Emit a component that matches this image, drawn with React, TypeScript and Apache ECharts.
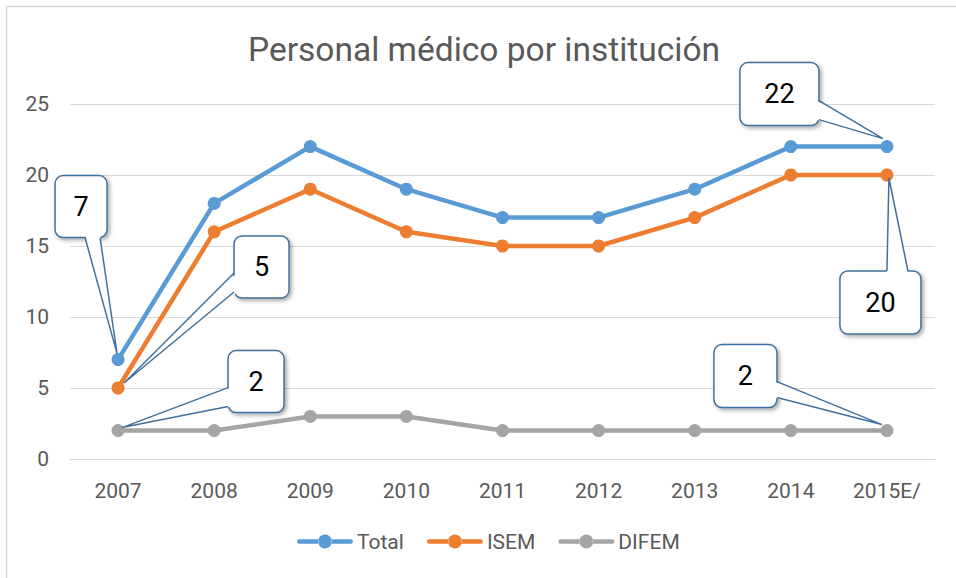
import { useEffect, useRef } from "react";
import * as echarts from "echarts";

const years = ["2007", "2008", "2009", "2010", "2011", "2012", "2013", "2014", "2015E/"];
const totalValues = [7, 18, 22, 19, 17, 17, 19, 22, 22];
const isemValues = [5, 16, 19, 16, 15, 15, 17, 20, 20];
const difemValues = [2, 2, 3, 3, 2, 2, 2, 2, 2];
const seriesNames = ["Total", "ISEM", "DIFEM"];
const seriesColors = ["#5B9BD5", "#ED7D31", "#A5A5A5"];
const seriesValues = [totalValues, isemValues, difemValues];

const titleText = "Personal médico por institución";
const FONT = "'Liberation Sans Narrow', Roboto, 'Noto Sans', sans-serif";

// legend icon: thick line with a circle marker in the middle
const LEGEND_ICON =
  "path://M2.25,4.75 L21.5,4.75 L21.5,9.25 L2.25,9.25 A2.25,2.25 0 0 1 2.25,4.75 Z " +
  "M34.5,4.75 L53.75,4.75 A2.25,2.25 0 0 1 53.75,9.25 L34.5,9.25 Z " +
  "M21,7 A7,7 0 1 0 35,7 A7,7 0 1 0 21,7 Z";

// Callout annotations: which point they point to, and box geometry relative to that point
type Callout = {
  series: number;
  index: number;
  box: [number, number, number, number];
  base: [[number, number], [number, number]];
  edge: "top" | "bottom" | "left" | "right";
  tip: [number, number];
};
const callouts: Callout[] = [
  { series: 0, index: 0, box: [-63, -184, 52, 62], base: [[-33, -122], [-18, -122]], edge: "bottom", tip: [-1, -6] },
  { series: 1, index: 0, box: [116, -152, 55, 62], base: [[116, -115], [116, -96]], edge: "left", tip: [6, -5] },
  { series: 2, index: 0, box: [110, -80, 56, 62], base: [[110, -43], [110, -24]], edge: "left", tip: [4, -3] },
  { series: 0, index: 8, box: [-147, -84, 79, 63], base: [[-68, -46], [-68, -27]], edge: "right", tip: [-4, -8] },
  { series: 1, index: 8, box: [-47, 96, 81, 63], base: [[0, 96], [21, 96]], edge: "top", tip: [2, 3] },
  { series: 2, index: 8, box: [-173, -86, 63, 63], base: [[-110, -49], [-110, -33]], edge: "right", tip: [-5, -6] },
];

export default function App() {
  const ref = useRef<HTMLDivElement>(null);
  useEffect(() => {
    const chart = echarts.init(ref.current!, null, { renderer: "svg" });
    chart.setOption({
      animation: false,
      backgroundColor: "#ffffff",
      title: {
        text: titleText,
        left: 243,
        top: 27,
        textStyle: { fontFamily: FONT, fontSize: 33.5, fontWeight: "normal", color: "#595959" },
      },
      legend: {
        left: 297,
        top: 531,
        padding: 0,
        itemWidth: 56,
        itemHeight: 14,
        itemGap: 23,
        icon: LEGEND_ICON,
        textStyle: { fontFamily: FONT, fontSize: 21, color: "#595959", padding: [0, 0, 0, -1] },
        data: seriesNames,
      },
      grid: { left: 70, right: 21, top: 104, bottom: 119, containLabel: false },
      xAxis: {
        type: "category",
        data: years,
        boundaryGap: true,
        axisLine: { show: true, lineStyle: { color: "#D9D9D9", width: 1 } },
        axisTick: { show: false },
        axisLabel: { fontFamily: FONT, fontSize: 21, color: "#595959", margin: 21 },
      },
      yAxis: {
        type: "value",
        min: 0,
        max: 25,
        interval: 5,
        axisLine: { show: false },
        axisTick: { show: false },
        splitLine: { lineStyle: { color: "#D9D9D9", width: 1 } },
        axisLabel: { fontFamily: FONT, fontSize: 21, color: "#595959", margin: 21 },
      },
      series: seriesNames.map((name, i) => ({
        name,
        type: "line",
        data: seriesValues[i],
        symbol: "circle",
        symbolSize: 13,
        lineStyle: { width: 4.5, color: seriesColors[i] },
        itemStyle: { color: seriesColors[i] },
        z: 5 - i,
      })),
    });

    const graphics: any[] = [
      {
        type: "rect",
        silent: true,
        z: 0,
        shape: { x: 6.5, y: 6.5, width: 960, height: 590 },
        style: { fill: "none", stroke: "#D9D9D9", lineWidth: 1.5 },
      },
    ];
    const stroke = "#41719C";
    callouts.forEach((c) => {
      const val = seriesValues[c.series][c.index];
      const [px, py] = chart.convertToPixel({ gridIndex: 0 }, [c.index, val]) as number[];
      const [bx, by, bw, bh] = c.box;
      const b1 = [px + c.base[0][0], py + c.base[0][1]];
      const b2 = [px + c.base[1][0], py + c.base[1][1]];
      const tip = [px + c.tip[0], py + c.tip[1]];
      const inset = 3;
      const shift = (p: number[]) => {
        if (c.edge === "bottom") return [p[0], p[1] - inset];
        if (c.edge === "top") return [p[0], p[1] + inset];
        if (c.edge === "left") return [p[0] + inset, p[1]];
        return [p[0] - inset, p[1]];
      };
      graphics.push({
        type: "rect",
        z: 100,
        shape: { x: px + bx, y: py + by, width: bw, height: bh, r: 8 },
        style: {
          fill: "#ffffff",
          stroke,
          lineWidth: 1.5,
          shadowColor: "rgba(0,0,0,0.35)",
          shadowBlur: 4,
          shadowOffsetX: 2,
          shadowOffsetY: 2,
        },
      });
      graphics.push({
        type: "polygon",
        z: 101,
        shape: { points: [shift(b1), shift(b2), tip] },
        style: { fill: "#ffffff", stroke: "none" },
      });
      graphics.push({
        type: "polyline",
        z: 102,
        shape: { points: [b1, tip, b2] },
        style: { fill: "none", stroke, lineWidth: 1.5 },
      });
      graphics.push({
        type: "text",
        z: 103,
        x: px + bx + bw / 2,
        y: py + by + bh / 2,
        style: {
          text: String(val),
          fontFamily: FONT,
          fontSize: 27,
          fill: "#000000",
          align: "center",
          verticalAlign: "middle",
        },
      });
    });
    chart.setOption({ graphic: graphics });
    return () => chart.dispose();
  }, []);
  return (
    <div
      ref={ref}
      style={{ position: "fixed", left: 0, top: 0, width: 956, height: 578, background: "#fff" }}
    />
  );
}
